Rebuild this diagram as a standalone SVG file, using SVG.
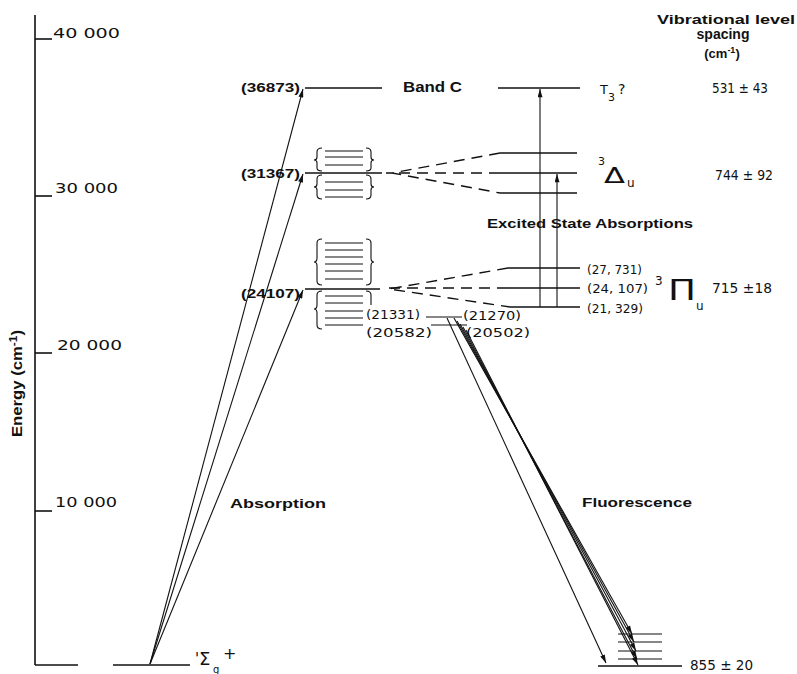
<svg xmlns="http://www.w3.org/2000/svg" width="797" height="674" viewBox="0 0 797 674">
<defs>
<marker id="ah" viewBox="0 0 10 6" refX="10" refY="3" markerWidth="9" markerHeight="5" markerUnits="userSpaceOnUse" orient="auto">
<path d="M0,0 L10,3 L0,6 Z" fill="#111"/>
</marker>
</defs>
<style>
.ln{stroke:#111;stroke-width:1.6;fill:none}
.lt{stroke:#111;stroke-width:1.1;fill:none}
.ds{stroke:#111;stroke-width:1.4;fill:none;stroke-dasharray:11 7}
.t{font-family:"Liberation Sans","DejaVu Sans",sans-serif;fill:#111;font-weight:bold}
.n{font-family:"DejaVu Sans","Liberation Sans",sans-serif;fill:#111;font-weight:normal}
</style>
<rect width="797" height="674" fill="#fff"/>

<g id="axis">
<line class="ln" x1="35" y1="15" x2="35" y2="665"/>
<line class="ln" x1="35" y1="665" x2="78" y2="665"/>
<line class="ln" x1="35" y1="39" x2="52" y2="39"/>
<line class="ln" x1="35" y1="196" x2="52" y2="196"/>
<line class="ln" x1="35" y1="353" x2="52" y2="353"/>
<line class="ln" x1="35" y1="511" x2="52" y2="511"/>
<text class="n" x="53" y="38" font-size="14" textLength="67" lengthAdjust="spacingAndGlyphs">40 000</text>
<text class="n" x="55" y="193" font-size="14" textLength="63" lengthAdjust="spacingAndGlyphs">30 000</text>
<text class="n" x="57" y="350" font-size="14" textLength="65" lengthAdjust="spacingAndGlyphs">20 000</text>
<text class="n" x="55" y="507" font-size="14" textLength="62" lengthAdjust="spacingAndGlyphs">10 000</text>
<text class="t" transform="translate(22,437) rotate(-90)" font-size="14" textLength="107" lengthAdjust="spacingAndGlyphs">Energy (cm<tspan font-size="10" dy="-5">-1</tspan><tspan dy="5">)</tspan></text>
</g>

<g id="ground">
<line class="ln" x1="113" y1="665" x2="190" y2="665"/>
<text class="n" x="195" y="664" font-size="15">'</text>
<text class="n" x="199" y="665" font-size="18">Σ</text>
<text class="n" x="213" y="673" font-size="10">g</text>
<text class="n" x="223" y="659" font-size="16">+</text>
</g>

<g id="bandC">
<line class="ln" x1="305" y1="88" x2="382" y2="88"/>
<text class="t" x="241" y="92" font-size="13" textLength="59" lengthAdjust="spacingAndGlyphs">(36873)</text>
<text class="t" x="403" y="92" font-size="14" textLength="59" lengthAdjust="spacingAndGlyphs">Band C</text>
</g>

<g id="level31367">
<line class="ln" x1="305" y1="173" x2="382" y2="173"/>
<text class="t" x="241" y="178" font-size="13" textLength="59" lengthAdjust="spacingAndGlyphs">(31367)</text>
<g class="lt">
<line x1="325" y1="151" x2="363" y2="151"/>
<line x1="325" y1="157" x2="363" y2="157"/>
<line x1="325" y1="165" x2="363" y2="165"/>
<line x1="325" y1="182" x2="363" y2="182"/>
<line x1="325" y1="190" x2="363" y2="190"/>
<line x1="325" y1="197" x2="363" y2="197"/>
<path d="M322,148 Q317,148 317,152 L317,157 Q317,160 314,160 Q317,160 317,163 L317,168 Q317,171 322,171"/>
<path d="M322,175 Q317,175 317,179 L317,184 Q317,187 314,187 Q317,187 317,190 L317,195 Q317,199 322,199"/>
<path d="M366,148 Q371,148 371,152 L371,157 Q371,160 374,160 Q371,160 371,163 L371,168 Q371,171 366,171"/>
<path d="M366,175 Q371,175 371,179 L371,184 Q371,187 374,187 Q371,187 371,190 L371,195 Q371,199 366,199"/>
</g>
</g>

<g id="level24107">
<line class="ln" x1="305" y1="289" x2="380" y2="289"/>
<text class="t" x="241" y="298" font-size="13" textLength="59" lengthAdjust="spacingAndGlyphs">(24107)</text>
<g class="lt">
<line x1="325" y1="243" x2="363" y2="243"/>
<line x1="325" y1="250" x2="363" y2="250"/>
<line x1="325" y1="257" x2="363" y2="257"/>
<line x1="325" y1="264" x2="363" y2="264"/>
<line x1="325" y1="271" x2="363" y2="271"/>
<line x1="325" y1="279" x2="363" y2="279"/>
<line x1="325" y1="296" x2="363" y2="296"/>
<line x1="325" y1="303" x2="363" y2="303"/>
<line x1="325" y1="311" x2="363" y2="311"/>
<line x1="325" y1="318" x2="363" y2="318"/>
<line x1="325" y1="325" x2="363" y2="325"/>
<path d="M322,239 Q317,239 317,243 L317,258 Q317,262 314,262 Q317,262 317,266 L317,281 Q317,285 322,285"/>
<path d="M322,291 Q317,291 317,295 L317,305 Q317,309 314,309 Q317,309 317,313 L317,325 Q317,329 322,329"/>
<path d="M366,239 Q371,239 371,243 L371,258 Q371,262 374,262 Q371,262 371,266 L371,281 Q371,285 366,285"/>
<path d="M366,291 Q371,291 371,295 L371,305"/>
</g>
</g>

<g id="levels21000">
<text class="n" x="366" y="319" font-size="13" textLength="54" lengthAdjust="spacingAndGlyphs">(21331)</text>
<text class="n" x="366" y="337" font-size="13" textLength="66" lengthAdjust="spacingAndGlyphs">(20582)</text>
<line class="lt" x1="426" y1="317" x2="462" y2="317"/>
<line class="lt" x1="431" y1="325" x2="467" y2="325"/>
<text class="n" x="463" y="320" font-size="13" textLength="58" lengthAdjust="spacingAndGlyphs">(21270)</text>
<text class="n" x="466" y="337" font-size="13" textLength="64" lengthAdjust="spacingAndGlyphs">(20502)</text>
</g>

<g id="T3">
<line class="ln" x1="498" y1="88" x2="580" y2="88"/>
<text class="n" x="600" y="94" font-size="13">T<tspan font-size="11" dy="7">3</tspan><tspan font-size="14" dy="-7" dx="3">?</tspan></text>
</g>

<g id="delta">
<line class="ln" x1="500" y1="153" x2="577" y2="153"/>
<line class="ln" x1="500" y1="173" x2="577" y2="173"/>
<line class="ln" x1="500" y1="193" x2="577" y2="193"/>
<text class="n" x="598" y="165" font-size="11">3</text>
<text class="n" x="604" y="183" font-size="21" textLength="21" lengthAdjust="spacingAndGlyphs">Δ</text>
<text class="n" x="627" y="187" font-size="12">u</text>
</g>

<g id="pi">
<line class="ln" x1="508" y1="268" x2="580" y2="268"/>
<line class="ln" x1="508" y1="288" x2="580" y2="288"/>
<line class="ln" x1="510" y1="307" x2="580" y2="307"/>
<text class="n" x="587" y="274" font-size="13" textLength="55" lengthAdjust="spacingAndGlyphs">(27, 731)</text>
<text class="n" x="587" y="293" font-size="13" textLength="61" lengthAdjust="spacingAndGlyphs">(24, 107)</text>
<text class="n" x="587" y="313" font-size="13" textLength="56" lengthAdjust="spacingAndGlyphs">(21, 329)</text>
<text class="n" x="655" y="285" font-size="12">3</text>
<text class="n" x="668" y="300" font-size="28" textLength="28" lengthAdjust="spacingAndGlyphs">Π</text>
<text class="n" x="696" y="310" font-size="12">u</text>
</g>

<g id="ground-vib">
<line class="lt" x1="618" y1="634" x2="662" y2="634"/>
<line class="lt" x1="618" y1="642" x2="662" y2="642"/>
<line class="lt" x1="618" y1="651" x2="662" y2="651"/>
<line class="lt" x1="618" y1="659" x2="662" y2="659"/>
<line class="ln" x1="598" y1="666" x2="682" y2="666"/>
<text class="n" x="690" y="670" font-size="14" textLength="63" lengthAdjust="spacingAndGlyphs">855 ± 20</text>
</g>

<g id="labels">
<text class="t" x="657" y="24" font-size="13" textLength="138" lengthAdjust="spacingAndGlyphs">Vibrational  level</text>
<text class="t" x="723" y="39" font-size="14" text-anchor="middle">spacing</text>
<text class="t" x="722" y="58" font-size="13" text-anchor="middle">(cm<tspan font-size="9" dy="-5">-1</tspan><tspan dy="5">)</tspan></text>
<text class="n" x="712" y="93" font-size="14" textLength="56" lengthAdjust="spacingAndGlyphs">531 ± 43</text>
<text class="n" x="715" y="180" font-size="14" textLength="58" lengthAdjust="spacingAndGlyphs">744 ± 92</text>
<text class="n" x="712" y="293" font-size="14" textLength="60" lengthAdjust="spacingAndGlyphs">715  ±18</text>
<text class="t" x="487" y="228" font-size="13" textLength="206" lengthAdjust="spacingAndGlyphs">Excited State Absorptions</text>
<text class="t" x="230" y="508" font-size="13" textLength="96" lengthAdjust="spacingAndGlyphs">Absorption</text>
<text class="t" x="582" y="507" font-size="13" textLength="110" lengthAdjust="spacingAndGlyphs">Fluorescence</text>
</g>

<g id="connectors">
<line class="lt" x1="150" y1="664" x2="303" y2="89" marker-end="url(#ah)"/>
<line class="lt" x1="150" y1="664" x2="303" y2="174" marker-end="url(#ah)"/>
<line class="lt" x1="150" y1="664" x2="303" y2="290" marker-end="url(#ah)"/>
<line class="lt" x1="540" y1="307" x2="540" y2="89" marker-end="url(#ah)"/>
<line class="lt" x1="557" y1="307" x2="557" y2="174" marker-end="url(#ah)"/>
<path class="ds" d="M500,153 L392,173 L500,193"/>
<path class="ds" d="M500,173 L386,173"/>
<path class="ds" d="M508,268 L389,289 L510,307"/>
<path class="ds" d="M508,288 L384,288"/>
<line class="lt" x1="447" y1="318" x2="606" y2="663" marker-end="url(#ah)"/>
<line class="lt" x1="454" y1="318" x2="632" y2="634" marker-end="url(#ah)"/>
<line class="lt" x1="457" y1="321" x2="634" y2="642" marker-end="url(#ah)"/>
<line class="lt" x1="460" y1="324" x2="636" y2="651" marker-end="url(#ah)"/>
<line class="lt" x1="463" y1="327" x2="637" y2="659" marker-end="url(#ah)"/>
<line class="lt" x1="466" y1="330" x2="638" y2="665" marker-end="url(#ah)"/>
</g>
</svg>
